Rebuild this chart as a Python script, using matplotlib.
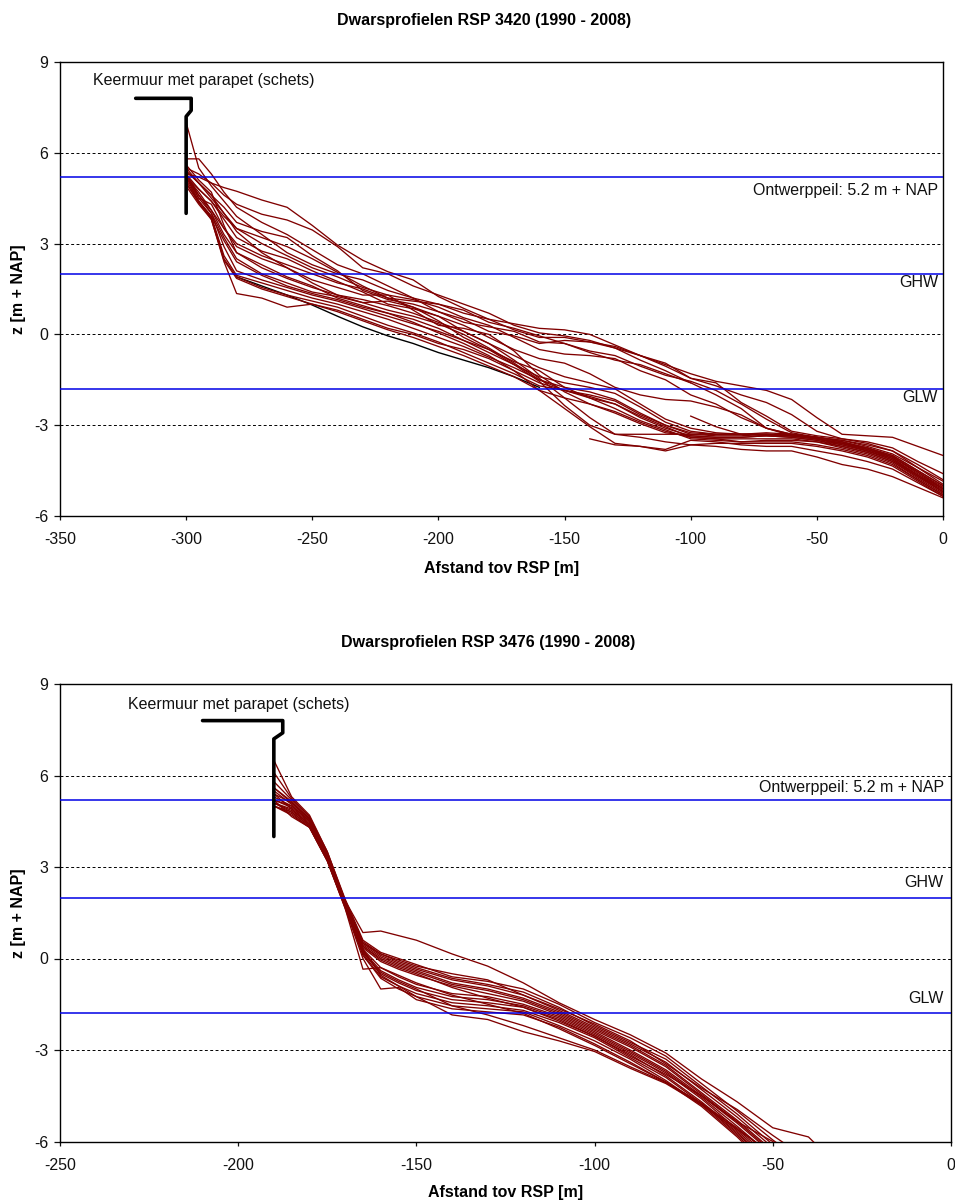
import numpy as np
import matplotlib
matplotlib.use('Agg')
import matplotlib.pyplot as plt

plt.rcParams['font.family'] = ['Liberation Sans', 'DejaVu Sans']
plt.rcParams['axes.unicode_minus'] = False

n = np.nan

# RSP 3420 ====================================
x_3420 = [-300, -295, -290, -285, -280, -270, -260, -250, -240, -230, -220, -210, -200, -190, -180, -170, -160,
          -150, -140, -130, -120, -110, -100, -90, -80, -70, -60, -50, -40, -30, -20, -10, 0]
profiles_3420 = [
    [5.3, 5.2, 5.0, 4.85, 4.73, 4.44, 4.2, 3.6, 2.95, 2.45, 2.07, 1.8, 1.25, 0.86, 0.5, 0.35, 0.2, 0.15, 0.0, -0.35, -0.7, -1.0, -1.3, -1.55, -1.7, -1.85, -2.15, -2.75, -3.3, -3.35, -3.4, -3.7, -4.0],
    [5.5, 5.3, 5.0, 4.6, 4.3, 3.97, 3.78, 3.45, 2.9, 2.2, 2.0, 1.6, 1.3, 1.0, 0.7, 0.3, 0.05, -0.05, -0.2, -0.45, -0.7, -0.95, -1.45, -1.7, -2.0, -2.25, -2.65, -3.2, -3.45, -3.55, -3.75, -4.2, -4.6],
    [5.8, 5.8, 5.3, 4.7, 4.2, 3.7, 3.3, 2.8, 2.3, 2.0, 1.6, 1.2, 0.75, 0.5, 0.1, -0.05, -0.3, -0.2, -0.25, -0.45, -0.85, -1.2, -1.6, -2.0, -2.45, -3.1, -3.3, -3.4, -3.5, -3.65, -3.85, -4.4, -4.95],
    [7.0, 5.5, 4.9, 4.4, 3.9, 3.3, 2.7, 2.3, 2.0, 1.8, 1.45, 1.2, 1.0, 0.8, 0.4, 0.2, -0.05, -0.3, -0.6, -0.85, -1.0, -1.3, -1.6, n, n, n, n, n, n, n, n, n, n],
    [5.4, 5.0, 4.6, 4.0, 3.5, 3.0, 2.6, 2.2, 1.9, 1.55, 1.3, 1.15, 0.9, 0.55, 0.3, -0.1, -0.5, -0.65, -0.7, -0.8, -1.2, -1.5, -2.0, -2.3, -2.75, -3.1, -3.3, -3.45, -3.6, -3.75, -4.0, -4.5, -5.0],
    [5.2, 4.8, 4.4, 3.8, 3.2, 2.75, 2.5, 2.1, 1.75, 1.4, 1.0, 0.85, 0.6, 0.3, -0.1, -0.5, -0.8, -0.95, -1.3, -1.75, -2.0, -2.15, -2.2, -2.4, -2.66, -3.1, -3.35, -3.45, -3.6, -3.8, -4.05, -4.6, -5.1],
    [5.6, 5.1, 4.7, 3.6, 2.7, 2.2, 1.85, 1.55, 1.3, 1.15, 0.95, 0.7, 0.4, 0.1, -0.3, -0.7, -1.1, -1.4, -1.6, -1.8, -2.3, -2.8, -3.1, -3.25, -3.3, -3.3, -3.35, -3.45, -3.6, -3.85, -4.1, -4.65, -5.15],
    [5.3, 4.6, 4.0, 2.9, 2.1, 1.8, 1.55, 1.3, 1.1, 0.85, 0.6, 0.35, 0.1, -0.2, -0.6, -1.0, -1.4, -1.6, -1.75, -1.95, -2.4, -2.9, -3.2, -3.3, -3.3, -3.25, -3.3, -3.4, -3.55, -3.8, -4.1, -4.65, -5.2],
    [5.1, 4.4, 3.9, 2.6, 1.95, 1.7, 1.45, 1.2, 1.0, 0.75, 0.5, 0.2, -0.1, -0.4, -0.75, -1.1, -1.5, -1.75, -1.9, -2.15, -2.6, -3.0, -3.3, -3.35, -3.35, -3.3, -3.35, -3.45, -3.65, -3.85, -4.15, -4.7, -5.2],
    [5.0, 4.35, 3.85, 2.5, 1.9, 1.55, 1.3, 1.1, 0.9, 0.6, 0.3, 0.05, -0.25, -0.6, -0.95, -1.3, -1.7, -1.85, -2.05, -2.3, -2.75, -3.1, -3.35, -3.4, -3.4, -3.35, -3.4, -3.5, -3.7, -3.9, -4.2, -4.75, -5.25],
    [4.9, 4.3, 3.8, 2.45, 1.85, 1.5, 1.25, 1.0, 0.75, 0.45, 0.15, -0.1, -0.4, -0.7, -1.05, -1.4, -1.85, -2.1, -2.3, -2.55, -2.9, -3.2, -3.4, -3.45, -3.45, -3.45, -3.45, -3.55, -3.75, -3.95, -4.25, -4.8, -5.3],
    [5.2, 4.4, 3.8, 2.4, 1.35, 1.2, 0.9, 1.0, 0.8, 0.5, 0.2, 0.0, -0.3, -0.5, -0.8, -1.2, -1.6, -1.85, -2.1, -2.45, -2.85, -3.15, -3.45, -3.5, -3.55, -3.55, -3.55, -3.65, -3.8, -4.0, -4.3, -4.8, -5.3],
    [5.2, 4.7, 4.1, 3.3, 2.7, 2.3, 1.9, 1.6, 1.2, 0.95, 0.7, 0.5, 0.2, -0.2, -0.5, -0.9, -1.2, -1.75, -2.1, -2.3, -2.7, -3.05, -3.4, -3.45, -3.55, -3.5, -3.5, -3.55, -3.7, -3.9, -4.2, -4.7, -5.2],
    [5.3, 4.5, 4.3, 3.5, 2.9, 2.5, 2.2, 1.8, 1.55, 1.3, 1.3, 0.8, 0.3, 0.2, 0.0, -0.55, -1.35, -1.9, -2.3, -2.6, -2.95, -3.25, -3.35, -3.4, -3.4, -3.35, -3.4, -3.5, -3.65, -3.85, -4.15, -4.65, -5.1],
    [5.5, 5.0, 4.5, 4.0, 3.4, 2.7, 2.2, 1.7, 1.3, 1.05, 1.1, 0.9, 0.45, -0.1, -0.5, -1.0, -1.55, -2.35, -3.0, -3.3, -3.3, -3.3, -3.3, -3.3, -3.3, -3.3, -3.35, -3.45, -3.6, -3.8, -4.05, -4.55, -5.05],
    [5.3, 4.8, 4.4, 3.9, 3.5, 3.2, 2.9, 2.5, 2.05, 1.6, 1.2, 0.9, 0.6, 0.1, -0.3, -0.85, -1.45, -2.1, -2.75, -3.3, -3.4, -3.55, -3.65, -3.6, -3.6, -3.6, -3.6, -3.7, -3.85, -4.05, -4.35, -4.85, -5.35],
    [5.4, 5.0, 4.6, 4.2, 3.7, 3.4, 3.2, 2.6, 2.1, 1.45, 1.15, 1.0, 0.75, 0.4, 0.25, 0.1, -0.25, -0.3, -0.55, -0.7, -1.05, -1.35, -1.55, -1.85, -2.3, -2.8, -3.25, -3.4, -3.5, -3.7, -3.95, -4.4, -4.85],
    [5.2, 4.6, 4.1, 3.5, 3.0, 2.6, 2.3, 2.0, 1.7, 1.5, 1.2, 1.1, 1.0, 0.7, 0.5, 0.15, -0.1, -0.1, -0.25, -0.4, -0.7, -1.05, -1.45, -1.6, -2.25, -2.7, -3.2, -3.35, -3.45, -3.6, -3.85, -4.3, -4.8],
    [5.0, 4.4, 3.9, 3.1, 2.4, 1.95, 1.6, 1.35, 1.15, 0.9, 0.7, 0.4, 0.05, -0.3, -0.7, -1.2, -1.85, -2.45, -3.05, -3.6, -3.7, -3.85, -3.65, -3.7, -3.8, -3.85, -3.85, -4.05, -4.3, -4.45, -4.7, -5.05, -5.4],
    [n, n, n, n, n, n, n, n, n, n, n, n, n, n, n, n, n, n, -3.45, -3.65, -3.7, -3.8, -3.5, -3.55, -3.65, -3.7, -3.7, -3.85, -4.0, -4.2, -4.45, -4.9, -5.35],
    [n, n, n, n, n, n, n, n, n, n, n, n, n, n, n, n, n, n, n, n, n, n, -2.7, -3.05, -3.3, -3.35, -3.35, -3.4, -3.55, -3.75, -4.0, -4.5, -5.0],
    [5.2, 4.5, 4.0, 3.2, 2.5, 2.0, 1.7, 1.4, 1.25, 1.05, 0.8, 0.6, 0.35, 0.0, -0.45, -0.95, -1.5, -1.85, -2.0, -2.2, -2.65, -3.0, -3.25, -3.3, -3.3, -3.3, -3.3, -3.4, -3.55, -3.75, -4.05, -4.55, -5.1],
]
black_3420 = [n, n, n, n, 1.9, 1.6, 1.3, 0.97, 0.6, 0.25, -0.05, -0.3, -0.6, -0.85, -1.1, -1.4, -1.75] + [n] * 16

# RSP 3476 ====================================
x_3476 = [-190, -185, -180, -175, -170, -165, -160, -155, -150, -140, -130, -120, -110, -100, -90, -80, -70, -60, -50, -40, -30]
profiles_3476 = [
    [6.5, 5.3, 4.7, 3.5, 1.9, 0.85, 0.9, 0.75, 0.6, 0.15, -0.25, -0.8, -1.45, -2.0, -2.5, -3.1, -3.95, -4.7, -5.55, -5.85, -7.0],
    [6.1, 5.25, 4.65, 3.5, 1.95, 0.6, 0.2, 0.0, -0.2, -0.6, -0.75, -1.0, -1.5, -2.1, -2.6, -3.2, -4.1, -5.0, -5.95, -6.8, n],
    [5.8, 5.2, 4.6, 3.45, 1.9, 0.55, 0.15, -0.1, -0.3, -0.65, -0.85, -1.1, -1.6, -2.2, -2.75, -3.3, -4.2, -5.1, -6.1, n, n],
    [5.6, 5.1, 4.55, 3.4, 1.85, 0.5, 0.1, -0.15, -0.35, -0.7, -0.9, -1.2, -1.7, -2.25, -2.8, -3.4, -4.3, -5.2, -6.2, n, n],
    [5.4, 5.1, 4.6, 3.4, 1.85, 0.45, 0.05, -0.2, -0.4, -0.8, -1.0, -1.3, -1.75, -2.3, -2.85, -3.5, -4.4, -5.3, -6.3, n, n],
    [5.3, 5.0, 4.5, 3.35, 1.8, 0.4, 0.0, -0.25, -0.45, -0.85, -1.05, -1.35, -1.8, -2.35, -2.9, -3.55, -4.45, -5.35, -6.35, n, n],
    [5.2, 5.0, 4.5, 3.35, 1.8, 0.35, -0.1, -0.35, -0.55, -0.9, -1.15, -1.4, -1.85, -2.4, -3.0, -3.65, -4.5, -5.4, -6.4, n, n],
    [5.2, 4.95, 4.45, 3.3, 1.75, 0.3, -0.3, -0.6, -0.85, -1.15, -1.25, -1.5, -1.9, -2.45, -3.05, -3.7, -4.55, -5.5, -6.5, n, n],
    [5.1, 4.9, 4.4, 3.3, 1.75, 0.25, -0.4, -0.7, -0.95, -1.25, -1.35, -1.55, -1.95, -2.5, -3.1, -3.75, -4.6, -5.6, -6.6, n, n],
    [5.1, 4.85, 4.4, 3.25, 1.7, 0.2, -0.5, -0.8, -1.05, -1.35, -1.45, -1.6, -2.0, -2.55, -3.15, -3.85, -4.7, -5.65, -6.7, n, n],
    [5.0, 4.8, 4.35, 3.25, 1.7, 0.15, -0.6, -0.9, -1.15, -1.45, -1.55, -1.7, -2.1, -2.6, -3.25, -3.9, -4.75, -5.7, -6.8, n, n],
    [5.0, 4.75, 4.3, 3.2, 1.7, 0.1, -0.65, -1.0, -1.25, -1.55, -1.65, -1.75, -2.2, -2.7, -3.3, -4.0, -4.8, -5.8, -6.9, n, n],
    [5.0, 4.7, 4.3, 3.2, 1.65, 0.0, -1.0, -0.95, -1.35, -1.65, -1.75, -1.85, -2.25, -2.8, -3.4, -4.05, -4.85, -5.85, -7.0, n, n],
    [5.2, 4.65, 4.3, 3.2, 1.65, -0.35, -0.3, -0.55, -0.8, -1.2, -1.5, -1.8, -2.3, -2.85, -3.45, -4.05, -4.75, -5.75, -6.8, n, n],
    [5.4, 4.9, 4.4, 3.3, 1.75, 0.3, -0.55, -0.9, -1.25, -1.85, -2.0, -2.4, -2.7, -3.05, -3.6, -4.1, -4.8, -5.6, -6.4, n, n],
    [5.1, 4.8, 4.35, 3.25, 1.7, 0.2, -0.45, -0.75, -1.0, -1.55, -1.85, -2.2, -2.6, -3.0, -3.55, -4.07, -4.75, -5.55, -6.5, n, n],
    [5.5, 5.05, 4.5, 3.35, 1.8, 0.4, -0.05, -0.3, -0.5, -0.95, -1.3, -1.6, -2.05, -2.55, -3.2, -3.8, -4.5, -5.35, -6.0, -7.0, n],
    [5.6, 5.15, 4.55, 3.4, 1.85, 0.5, 0.15, -0.05, -0.25, -0.5, -0.7, -1.2, -1.65, -2.15, -2.7, -3.45, -4.25, -4.95, -5.8, -6.6, n],
]

wall_x_3420 = [-320, -298, -298, -300, -300]
wall_x_3476 = [-210, -187.5, -187.5, -190, -190]
wall_z = [7.8, 7.8, 7.4, 7.2, 4.0]

yticks = [-6, -3, 0, 3, 6, 9]
levels = [5.2, 2.0, -1.8]
level_names = ['Ontwerppeil: 5.2 m + NAP', 'GHW', 'GLW']
W, H = 955.0, 1202.0
FS = 11.5


def panel(box, x, profiles, wall_x, xmin, title, title_xy, label_xy, level_y, xlabel_y, black=None):
    left, top, right, bottom = box
    ax = fig.add_axes([left / W, 1 - bottom / H, (right - left) / W, (bottom - top) / H])
    for z in profiles:
        ax.plot(x, z, color='#800000', lw=0.95, zorder=3)
    if black is not None:
        ax.plot(x, black, color='black', lw=1.0, zorder=2.5)
    for y in [-3, 0, 3, 6]:
        ax.axhline(y, color='black', lw=0.7, dashes=(3, 2.5), zorder=1)
    for y, name, ty in zip(levels, level_names, level_y):
        ax.axhline(y, color='#0000e6', lw=1.1, zorder=4)
        ax.text(-2, ty, name, ha='right', va='center', fontsize=FS, color='#111111')
    ax.plot(wall_x, wall_z, color='black', lw=2.6, solid_joinstyle='round', solid_capstyle='round', zorder=5)
    ax.text(label_xy[0], label_xy[1], 'Keermuur met parapet (schets)', ha='left', va='center', fontsize=FS, color='#111111')
    ax.set_xlim(xmin, 0)
    ax.set_ylim(-6, 9)
    ax.set_yticks(yticks)
    ax.set_xticks(np.arange(xmin, 1, 50))
    ax.tick_params(axis='x', length=3.2, width=0.9, labelsize=FS, pad=8.5, colors='#111111')
    ax.tick_params(axis='y', length=4, width=0.9, labelsize=FS, pad=4.5, colors='#111111')
    for s in ax.spines.values():
        s.set_linewidth(1.0)
    fig.text((left + right) / 2 / W, 1 - xlabel_y / H, 'Afstand tov RSP [m]', ha='center', va='center',
             fontsize=FS, fontweight='bold')
    fig.text(18 / W, 1 - (top + bottom) / 2 / H, 'z [m + NAP]', rotation=90, ha='center', va='center',
             fontsize=FS, fontweight='bold')
    fig.text(title_xy[0] / W, 1 - title_xy[1] / H, title, ha='center', va='center', fontsize=FS, fontweight='bold')
    return ax


fig = plt.figure(figsize=(9.55, 12.02), dpi=100)
panel((60, 62, 943, 516), x_3420, profiles_3420, wall_x_3420, -350,
      'Dwarsprofielen RSP 3420 (1990 - 2008)', (484, 20), (-337, 8.4), [4.77, 1.7, -2.07], 568, black_3420)
panel((60, 684, 951, 1141.5), x_3476, profiles_3476, wall_x_3476, -250,
      'Dwarsprofielen RSP 3476 (1990 - 2008)', (488, 643), (-231, 8.33), [5.6, 2.5, -1.3], 1193)
fig.savefig('out.png', dpi=100)
